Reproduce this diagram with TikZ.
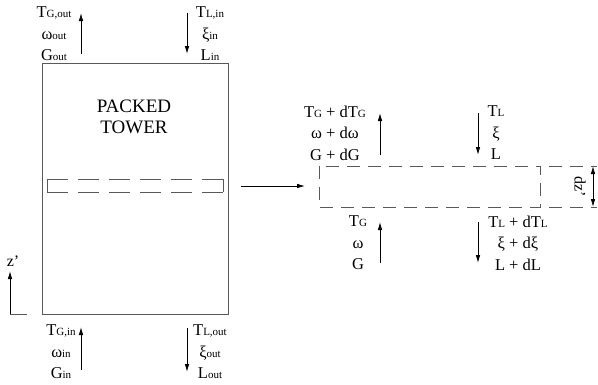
\documentclass[tikz,border=0pt]{standalone}
\usepackage{fontspec}
\setmainfont{Liberation Serif}
\usetikzlibrary{arrows.meta}
\newcommand{\lw}[1]{{\fontsize{11}{11}\selectfont #1}}
\tikzset{
  flow/.style={-{Latex[length=8pt,width=4.5pt]}, line width=0.8pt},
  lbl/.style={font=\fontsize{16.5}{21.5}\selectfont, align=center, inner sep=0pt},
  wall/.style={gray!70!black, line width=0.9pt},
  dashbox/.style={gray!70!black, line width=0.9pt, dash pattern=on 13pt off 8pt}
}
\begin{document}
\begin{tikzpicture}[x=1pt,y=-1pt]
  \useasboundingbox (0,0) rectangle (598,384);
  % tower
  \draw[wall] (42,63) rectangle (228,314);
  \node[font=\fontsize{19}{21}\selectfont, align=center] (tower) at (134,117) {PACKED\\TOWER};
  \draw[wall] (47,179) -- (47,192);
  \draw[wall] (223,179) -- (223,192);
  \draw[wall, dash pattern=on 21pt off 10pt] (47,179) -- (223,179);
  \draw[wall, dash pattern=on 21pt off 10pt] (47,192) -- (223,192);
  % streams of the tower
  \node[lbl] (gout) at (54,34) {T\lw{G,out}\\ω\lw{out}\\G\lw{out}};
  \node[lbl] (lin) at (210,34) {T\lw{L,in}\\ξ\lw{in}\\L\lw{in}};
  \node[lbl] (gin) at (61,352) {T\lw{G,in}\\ω\lw{in}\\G\lw{in}};
  \node[lbl] (lout) at (210,352) {T\lw{L,out}\\ξ\lw{out}\\L\lw{out}};
  \foreach \n/\x/\a/\b in {gt/81/54/13, lt/187/13/54, gb/81/370/327, lb/187/328/372}{
    \coordinate (\n1) at (\x,\a);
    \coordinate (\n2) at (\x,\b);
    \draw[flow] (\n1) -- (\n2);
  }
  % z' axis
  \coordinate (zo) at (10,314);
  \coordinate (zt) at (10,271);
  \coordinate (zr) at (27,314);
  \draw[wall] (zr) -- (zo);
  \draw[flow] (zo) -- (zt);
  \node[font=\fontsize{16}{16}\selectfont] (zlab) at (13,261) {z'};
  % element
  \coordinate (s1) at (241,186);
  \coordinate (s2) at (305,186);
  \draw[flow] (s1) -- (s2);
  \draw[dashbox, dash phase=0pt] (319,166) rectangle (540,207);
  \draw[dashbox, dash phase=-9pt] (540,166) -- (597,166);
  \draw[dashbox, dash phase=-9pt] (540,207) -- (597,207);
  \coordinate (d1) at (593,166);
  \coordinate (d2) at (593,207);
  \draw[{Latex[length=8pt,width=4.5pt]}-{Latex[length=8pt,width=4.5pt]}, line width=0.8pt] (d1) -- (d2);
  \node[font=\fontsize{16}{16}\selectfont, rotate=-90] (dz) at (580,187) {dz'};
  \node[lbl] (gtop) at (335,133) {T\lw{G} + dT\lw{G}\\ω + dω\\G + dG};
  \node[lbl] (ltop) at (496,133) {T\lw{L}\\ξ\\L};
  \node[lbl] (gbot) at (358,243) {T\lw{G}\\ω\\G};
  \node[lbl] (lbot) at (518,243) {T\lw{L} + dT\lw{L}\\ξ + dξ\\L + dL};
  \foreach \n/\x/\a/\b in {ga/380/155/113, la/478/113/155, gc/380/263/222, lc/478/222/263}{
    \coordinate (\n1) at (\x,\a);
    \coordinate (\n2) at (\x,\b);
    \draw[flow] (\n1) -- (\n2);
  }
\end{tikzpicture}
\end{document}
